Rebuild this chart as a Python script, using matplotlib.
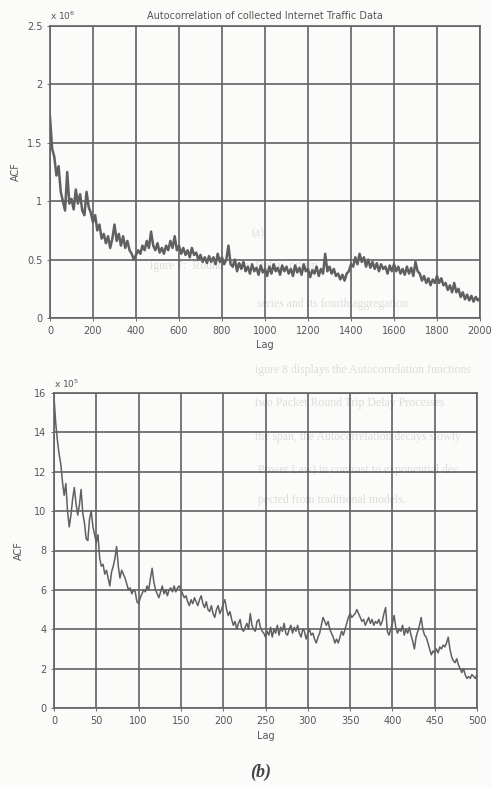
import numpy as np
import matplotlib.pyplot as plt

# top panel: ACF of collected traffic, lag 0..2000 (x 10^6)
lag_top = np.arange(0, 2001, 10)
acf_top = [
    1.72, 1.45, 1.38, 1.22, 1.30, 1.08, 1.00, 0.92, 1.25, 0.98,
    1.02, 0.93, 1.10, 0.98, 1.06, 0.92, 0.88, 1.08, 0.95, 0.90,
    0.82, 0.88, 0.75, 0.80, 0.68, 0.72, 0.64, 0.70, 0.60, 0.68,
    0.80, 0.66, 0.72, 0.62, 0.70, 0.60, 0.66, 0.58, 0.55, 0.50,
    0.54, 0.58, 0.55, 0.62, 0.58, 0.66, 0.60, 0.74, 0.62, 0.58,
    0.64, 0.56, 0.60, 0.55, 0.62, 0.58, 0.66, 0.60, 0.70, 0.58,
    0.62, 0.55, 0.60, 0.54, 0.58, 0.52, 0.60, 0.54, 0.56, 0.50,
    0.54, 0.48, 0.52, 0.47, 0.53, 0.48, 0.52, 0.46, 0.55, 0.48,
    0.52, 0.46, 0.50, 0.62, 0.46, 0.44, 0.50, 0.40, 0.47, 0.42,
    0.48, 0.40, 0.44, 0.38, 0.46, 0.40, 0.43, 0.37, 0.45, 0.39,
    0.42, 0.36, 0.44, 0.38, 0.46, 0.40, 0.43, 0.37, 0.45, 0.40,
    0.44, 0.38, 0.42, 0.36, 0.45, 0.39, 0.43, 0.37, 0.46, 0.40,
    0.42, 0.35, 0.41, 0.38, 0.44, 0.36, 0.42, 0.38, 0.55, 0.40,
    0.44, 0.38, 0.42, 0.36, 0.38, 0.33, 0.37, 0.32, 0.38, 0.40,
    0.46, 0.44, 0.52, 0.46, 0.55, 0.48, 0.52, 0.44, 0.50, 0.43,
    0.48, 0.42, 0.47, 0.40, 0.46, 0.42, 0.44, 0.38, 0.45, 0.40,
    0.46, 0.40, 0.44, 0.38, 0.42, 0.37, 0.44, 0.38, 0.43, 0.36,
    0.48, 0.40, 0.38, 0.32, 0.36, 0.30, 0.34, 0.28, 0.33, 0.30,
    0.36, 0.30, 0.34, 0.28, 0.30, 0.24, 0.28, 0.22, 0.30, 0.22,
    0.25, 0.18, 0.22, 0.16, 0.20, 0.15, 0.19, 0.14, 0.18, 0.15,
    0.17,
]

# bottom panel: lag 0..500 (x 10^5)
lag_bot = np.arange(0, 501, 2)
acf_bot = [
    15.8, 14.5, 13.6, 12.9, 12.4, 11.5, 10.8, 11.4, 10.0, 9.2,
    9.8, 10.6, 11.2, 10.4, 9.8, 10.3, 11.1, 9.9, 9.4, 8.6,
    8.5, 9.6, 10.0, 9.2, 8.8, 8.4, 8.8, 7.6, 7.2, 7.3,
    6.8, 7.0, 6.6, 6.2, 6.9, 7.2, 7.6, 8.2, 7.2, 6.6,
    7.0, 6.8, 6.6, 6.3, 6.0, 6.1, 5.8, 6.0, 5.9, 5.4,
    5.3, 5.6, 5.8, 6.0, 5.9, 6.2, 6.0, 6.6, 7.1, 6.4,
    6.0, 5.8, 5.6, 5.9, 6.2, 5.8, 6.0, 5.7, 6.0, 6.1,
    5.9, 6.2, 5.9, 6.1, 6.2, 6.0, 5.8, 5.6, 5.7, 5.4,
    5.2, 5.5, 5.3, 5.6, 5.4, 5.2, 5.5, 5.7, 5.3, 5.1,
    5.4, 5.0, 4.9, 5.2, 4.8, 4.6, 5.0, 5.2, 4.8, 5.0,
    5.3, 5.5, 5.0, 4.7, 4.9, 4.5, 4.2, 4.4, 4.0, 4.3,
    4.5, 4.0, 3.9, 4.1, 4.3, 4.0, 4.8, 4.2, 4.0, 3.9,
    4.4, 4.5, 4.1, 3.9, 3.8, 3.6, 3.9, 3.7, 4.1, 3.6,
    4.0, 3.8, 4.2, 3.7, 4.1, 3.9, 4.3, 3.8, 3.7, 4.0,
    4.2, 3.8, 4.1, 3.9, 4.2, 3.8, 3.6, 4.0, 3.9, 3.5,
    3.8, 4.0, 3.7, 3.8, 3.5, 3.3, 3.6, 3.8, 4.2, 4.6,
    4.4, 4.2, 4.4, 4.0, 3.8, 3.6, 3.3, 3.5, 3.3, 3.6,
    3.9, 3.7, 4.0, 4.3, 4.6, 4.8, 4.6, 4.7, 4.8, 5.0,
    4.8, 4.6, 4.4, 4.5, 4.2, 4.4, 4.6, 4.3, 4.5, 4.2,
    4.4, 4.3, 4.5, 4.2, 4.4, 4.8, 5.1, 3.9, 3.7, 4.0,
    4.3, 4.7, 4.1, 3.8, 4.0, 3.9, 4.2, 3.7, 4.0, 3.8,
    4.1, 3.7, 3.4, 3.0, 3.6, 3.9, 4.2, 4.6, 4.0, 3.7,
    3.6, 3.3, 3.0, 2.7, 2.9, 2.8, 3.0, 2.8, 3.1, 3.0,
    3.2, 3.1, 3.3, 3.6, 3.0, 2.6, 2.4, 2.3, 2.5, 2.2,
    2.0, 1.8, 2.0, 1.7, 1.5, 1.6, 1.5, 1.7, 1.6, 1.5,
    1.7,
]

# faint page text showing through the scanned figure (x px, y px, text)
ghost_lines = [
    (252, 233, "(a)"),
    (150, 266, "igure 7:  Round  Trip  Delay  origin"),
    (257, 304, "series and its fourth aggregation"),
    (255, 370, "igure 8 displays the Autocorrelation functions"),
    (255, 403, "two Packet Round Trip Delay Processes"),
    (255, 437, "the span, the Autocorrelation decays slowly"),
    (258, 470, "Power Law) in contrast to exponential dec"),
    (258, 500, "pected from traditional models."),
]

W, H = 492, 788
line_col = "#606060"
grid_col = "#626262"
txt_col = "#555555"

fig = plt.figure(figsize=(W / 100, H / 100), dpi=100)
fig.patch.set_facecolor("#fbfbfa")

for gx, gy, s in ghost_lines:
    fig.text(gx / W, 1 - gy / H, s, fontsize=8.5, family="Liberation Serif",
             color="#000000", alpha=0.12, va="center", zorder=0)

fig.text(0.53, 1 - 772 / H, "(b)", fontsize=13, family="Liberation Serif",
         style="italic", weight="bold", color="#444444", ha="center", va="center")


def style_axes(ax):
    ax.set_facecolor("none")
    ax.grid(True, color=grid_col, linewidth=1.2, linestyle="-")
    ax.set_axisbelow(True)
    for sp in ax.spines.values():
        sp.set_color(grid_col)
        sp.set_linewidth(1.2)
    ax.tick_params(labelsize=7, colors=txt_col, length=2, width=0.6)


ax1 = fig.add_axes([50 / W, 1 - 318 / H, 430 / W, 292 / H])
ax1.plot(lag_top, acf_top, color=line_col, linewidth=1.8)
ax1.set_xlim(0, 2000)
ax1.set_ylim(0, 2.5)
ax1.set_xticks(np.arange(0, 2001, 200))
ax1.set_yticks([0, 0.5, 1, 1.5, 2, 2.5])
ax1.set_yticklabels(["0", "0.5", "1", "1.5", "2", "2.5"])
style_axes(ax1)
ax1.set_ylabel("ACF", fontsize=7, color=txt_col, labelpad=4)
ax1.set_xlabel("Lag", fontsize=7, color=txt_col, labelpad=3)
ax1.set_title("Autocorrelation of collected Internet Traffic Data",
              fontsize=7, color=txt_col, pad=5)
ax1.text(0, 1.012, r"x 10$^{6}$", transform=ax1.transAxes,
         fontsize=6.5, color=txt_col, va="bottom")

ax2 = fig.add_axes([54 / W, 1 - 708 / H, 423 / W, 315 / H])
ax2.plot(lag_bot, acf_bot, color=line_col, linewidth=1.1)
ax2.set_xlim(0, 500)
ax2.set_ylim(0, 16)
ax2.set_xticks(np.arange(0, 501, 50))
ax2.set_yticks(np.arange(0, 17, 2))
style_axes(ax2)
ax2.set_ylabel("ACF", fontsize=7, color=txt_col, labelpad=7)
ax2.set_xlabel("Lag", fontsize=7, color=txt_col, labelpad=4)
ax2.text(0, 1.01, r"x 10$^{5}$", transform=ax2.transAxes,
         fontsize=6.5, color=txt_col, va="bottom")

fig.savefig("out.png", dpi=100, facecolor=fig.get_facecolor())
